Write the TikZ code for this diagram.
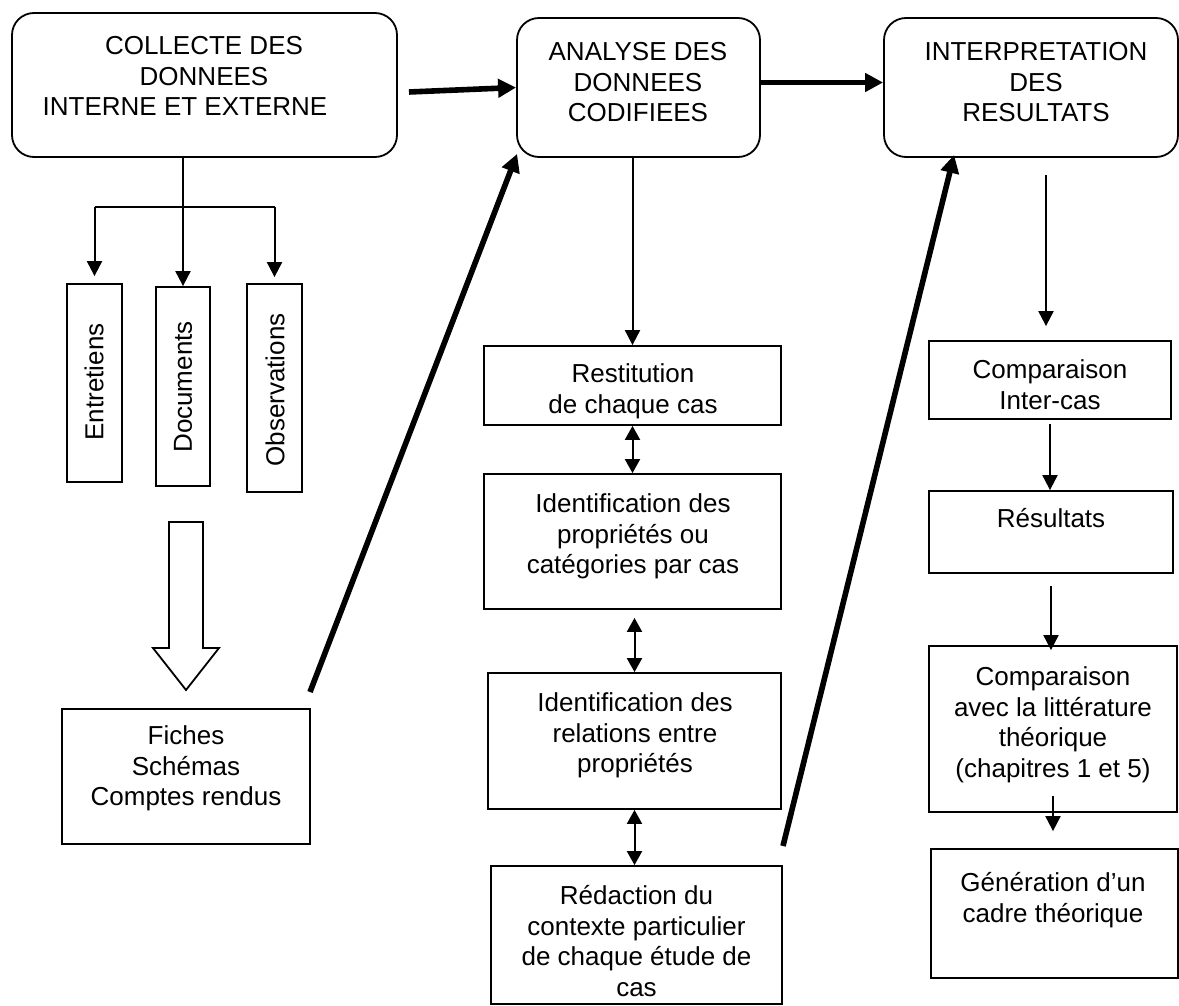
\documentclass[tikz,border=0pt]{standalone}
\usepackage{fontspec}
\setmainfont{Liberation Sans}
\usetikzlibrary{arrows.meta,fit}
\begin{document}
\begin{tikzpicture}[x=1pt,y=-1pt,
  box/.style={draw, line width=1.8pt, inner sep=0pt},
  rbox/.style={box, rounded corners=22pt},
  txt/.style={inner sep=0pt, align=center, font=\fontsize{26}{30.5}\selectfont},
  arr/.style={line width=2pt, -{Triangle[length=15pt,width=15pt]}},
  darr/.style={line width=2pt, {Triangle[length=14pt,width=15pt]}-{Triangle[length=14pt,width=15pt]}},
  bigarr/.style={line width=5.6pt, -{Triangle[length=18pt,width=18pt]}},
  plain/.style={line width=2pt}
]
\useasboundingbox (0,0) rectangle (1179,1006);

% top row
\node[rbox, fit={(12,13) (397,157)}] (collecte) {};
\node[rbox, fit={(517,18) (760,157)}] (analyse) {};
\node[rbox, fit={(884,18) (1178,157)}] (interp) {};
\node[txt, anchor=north] (collecte-t) at (204,36.5) {COLLECTE DES\\DONNEES\\INTERNE ET EXTERNE\hspace*{38pt}};
\node[txt, anchor=north] (analyse-t) at (638,42.5) {ANALYSE DES\\DONNEES\\CODIFIEES};
\node[txt, anchor=north] (interp-t) at (1036,42.5) {INTERPRETATION\\DES\\RESULTATS};

% sources
\node[box, fit={(67,284) (122,482)}] (entretiens) {};
\node[box, fit={(156,287) (210,486)}] (documents) {};
\node[box, fit={(247,284) (302,492)}] (observations) {};
\node[txt, rotate=90] (entretiens-t) at (94,382) {Entretiens};
\node[txt, rotate=90] (documents-t) at (183,387) {Documents};
\node[txt, rotate=90] (observations-t) at (275,390) {Observations};

\node[box, fit={(62,709) (310,844)}] (fiches) {};
\node[txt, anchor=north] (fiches-t) at (186,725.5) {Fiches\\Schémas\\Comptes rendus};

% middle column
\node[box, fit={(484,346) (781,425)}] (resti) {};
\node[box, fit={(484,474) (781,609)}] (idprop) {};
\node[box, fit={(488,673) (781,809)}] (idrel) {};
\node[box, fit={(491,866) (782,1004)}] (redac) {};
\node[txt, anchor=north] (resti-t) at (633,363.5) {Restitution\\de chaque cas};
\node[txt, anchor=north] (idprop-t) at (633,493.5) {Identification des\\propriétés ou\\catégories par cas};
\node[txt, anchor=north] (idrel-t) at (635,692.5) {Identification des\\relations entre\\propriétés};
\node[txt, anchor=north] (redac-t) at (636.5,885.5) {Rédaction du\\contexte particulier\\de chaque étude de\\cas};

% right column
\node[box, fit={(929,341) (1171,419)}] (cmp) {};
\node[box, fit={(929,491) (1173,573)}] (res) {};
\node[box, fit={(929,646) (1177,812)}] (cmplit) {};
\node[box, fit={(931,849) (1178,978)}] (gen) {};
\node[txt, anchor=north] (cmp-t) at (1050,359.5) {Comparaison\\Inter-cas};
\node[txt, anchor=north] (res-t) at (1051,508.5) {Résultats};
\node[txt, anchor=north] (cmplit-t) at (1053,666.5) {Comparaison\\avec la littérature\\théorique\\(chapitres 1 et 5)};
\node[txt, anchor=north] (gen-t) at (1053,872.5) {Génération d’un\\cadre théorique};

% top connectors
\coordinate (c-out) at (409,92);
\draw[bigarr] (c-out) -- (analyse.west);
\draw[bigarr] ([yshift=5pt]analyse.east) -- ([yshift=5pt]analyse.east -| interp.west);

% collecte tree
\coordinate (branch) at (183,207);
\draw[arr] (collecte.south -| documents.north) -- (documents.north);
\draw[plain] (branch -| entretiens.north) -- (branch -| observations.north);
\draw[arr] (branch -| entretiens.north) -- ([yshift=7pt]entretiens.north);
\draw[arr] (branch -| observations.north) -- ([yshift=6pt]observations.north);

% hollow block arrow
\draw[line width=1.8pt] (169,522) -- (203,522) -- (203,648) -- (219,648) -- (186,690) -- (153,648) -- (169,648) -- cycle;

% thick slanted connectors
\coordinate (f-out) at (310,692);
\draw[bigarr] (f-out) -- ([shift={(1pt,4pt)}]analyse.south west);
\coordinate (r-out) at (783,846);
\draw[bigarr] (r-out) -- ([shift={(71pt,3pt)}]interp.south west);

% middle column connectors
\draw[arr] (analyse.south -| resti.north) -- (resti.north);
\draw[darr] (resti.south) -- (idprop.north);
\draw[darr] ([yshift=-8pt]idprop.south -| idrel.north) -- (idrel.north);
\draw[darr] (idrel.south) -- (idrel.south |- redac.north);

% right column connectors
\coordinate (i-out) at (1046,175);
\draw[arr, shorten >=14pt] (i-out) -- (i-out |- cmp.north);
\draw[arr, shorten >=4pt] ([yshift=-4pt]cmp.south) -- ([yshift=-4pt]cmp.south |- res.north);
\draw[arr, shorten >=7pt] ([yshift=-12pt]res.south) -- ([yshift=-12pt]res.south |- cmplit.north);
\draw[arr] ([yshift=17pt]cmplit.south) -- ([yshift=17pt]cmplit.south |- gen.north);
\end{tikzpicture}
\end{document}
